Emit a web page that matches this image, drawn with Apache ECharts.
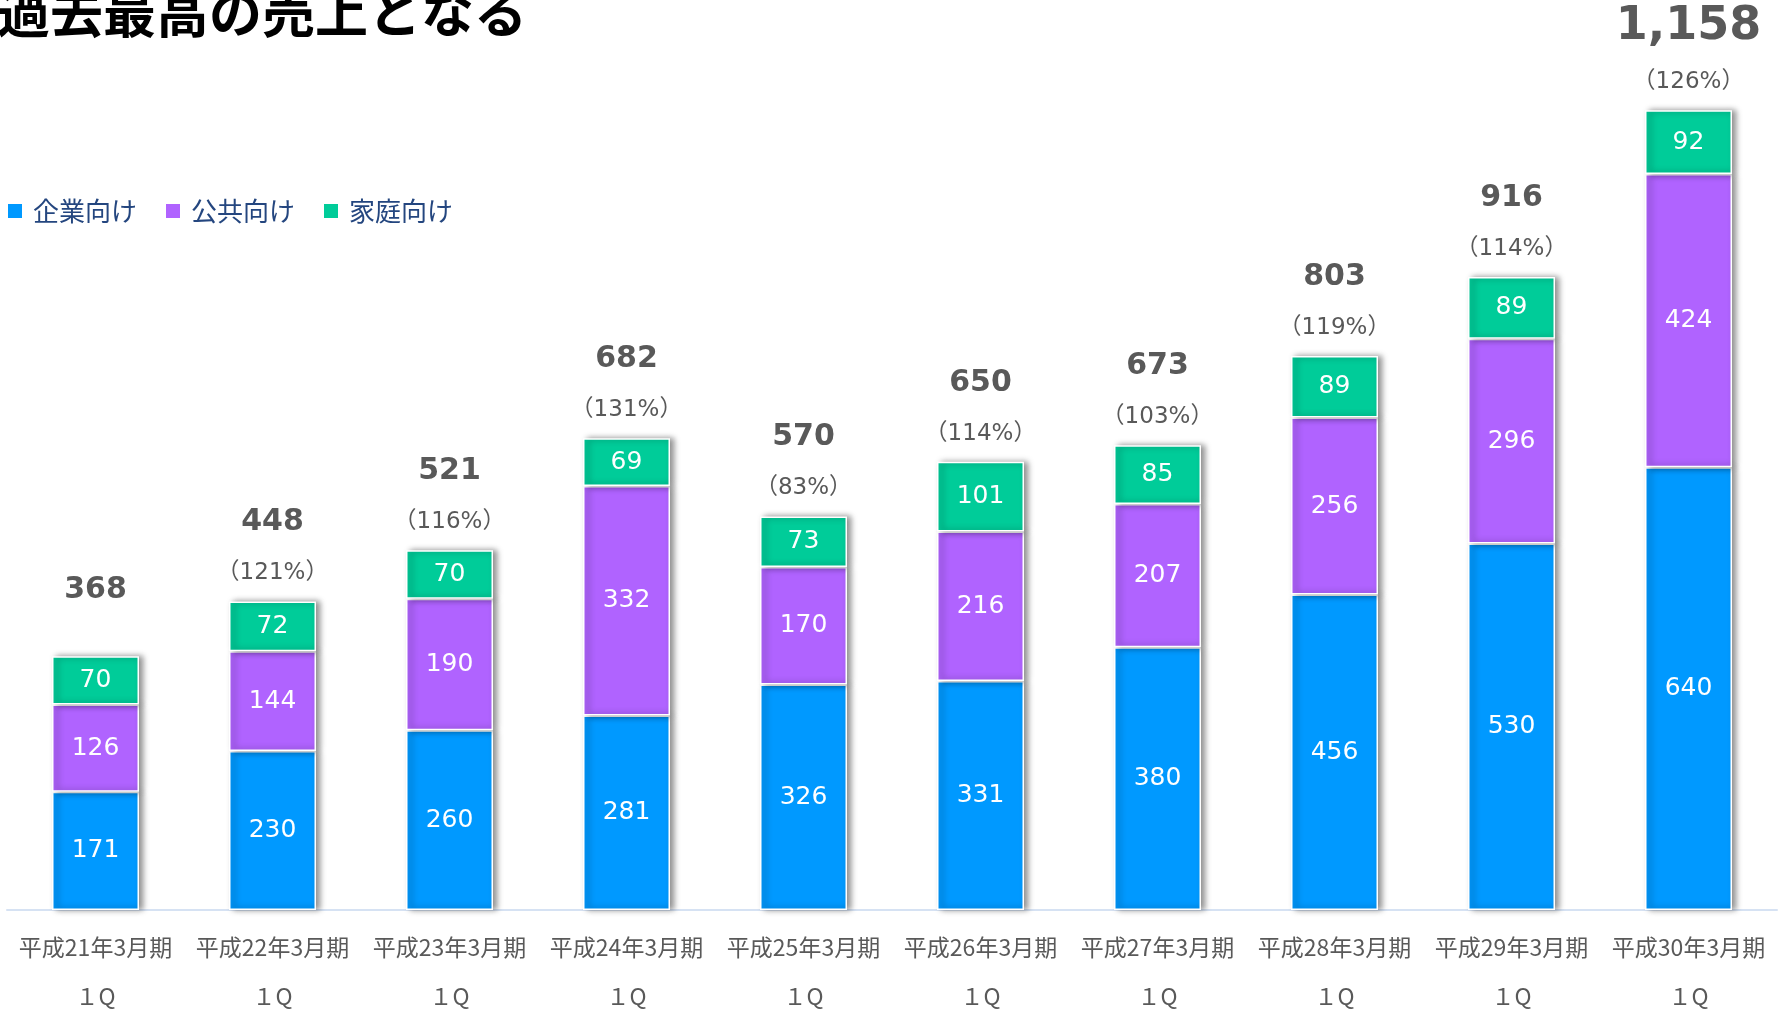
<!DOCTYPE html>
<html><head><meta charset="utf-8">
<script src="https://cdn.jsdelivr.net/npm/echarts@6/dist/echarts.min.js"></script>
<style>html,body{margin:0;padding:0;background:#fff}#c{width:1783px;height:1016px}</style>
</head><body><div id="c"></div>
<script>
const categories = ['平成21年3月期','平成22年3月期','平成23年3月期','平成24年3月期','平成25年3月期','平成26年3月期','平成27年3月期','平成28年3月期','平成29年3月期','平成30年3月期'];
const quarterLabel = '１Q';
const corporate = [171,230,260,281,326,331,380,456,530,640];
const publicSector = [126,144,190,332,170,216,207,256,296,424];
const household = [70,72,70,69,73,101,85,89,89,92];
const totals = [368,448,521,682,570,650,673,803,916,1158];
const growth = [null,121,116,131,83,114,103,119,114,126];
const seriesNames = ['企業向け','公共向け','家庭向け'];

const colors = ['#0099FF','#B063FF','#00CC99'];
const chart = echarts.init(document.getElementById('c'));
const digitFont = '"DejaVu Sans","Noto Sans CJK JP",sans-serif';
const shadow = {shadowColor:'rgba(0,0,0,0.45)', shadowBlur:6, shadowOffsetX:4, shadowOffsetY:0};
function seg(name, data, color){
  return {
    name, type:'bar', stack:'t', data, barWidth:87,
    itemStyle:Object.assign({color, borderColor:'#fff', borderWidth:1.5}, shadow),
    label:{show:true, position:'inside', color:'#fff', fontSize:25, fontFamily:digitFont},
    emphasis:{disabled:true}
  };
}
const totalSeries = {
  name:'total', type:'bar', stack:'t', barWidth:87, silent:true,
  data: totals.map(()=>0),
  itemStyle:{color:'transparent'},
  label:{
    show:true, position:'top', distance:9,
    formatter: p => {
      const i = p.dataIndex;
      const t = totals[i].toLocaleString('en-US');
      const big = totals[i] >= 1000 ? 'tb' : 't';
      if(growth[i] == null) return '{' + big + '|' + t + '}\n{e| }';
      return '{' + big + '|' + t + '}\n{p|（' + growth[i] + '%）}';
    },
    rich:{
      t:{fontSize:30, fontWeight:'bold', color:'#595959', fontFamily:digitFont, lineHeight:64},
      tb:{fontSize:46, fontWeight:'bold', color:'#595959', fontFamily:digitFont, lineHeight:72},
      p:{fontSize:23, color:'#595959', fontFamily:digitFont, lineHeight:38},
      e:{fontSize:10, lineHeight:25}
    }
  }
};
chart.setOption({
  animation:false,
  color:colors,
  graphic:[{type:'text', left:-3, top:-14, style:{text:'過去最高の売上となる', fontSize:53, fontWeight:'bold', fill:'#000', fontFamily:'"Noto Sans CJK JP",sans-serif'}}],
  legend:{
    data:seriesNames, left:1, top:193, icon:'rect', itemWidth:16, itemHeight:16, itemGap:27,
    textStyle:{fontSize:26, color:'#24467F', fontFamily:'"Noto Sans CJK JP",sans-serif', padding:[0,0,0,5]}
  },
  grid:{left:7, right:6, top:82, bottom:106, outerBoundsMode:'none', containLabel:false},
  xAxis:{
    type:'category', data:categories,
    axisTick:{show:false},
    axisLine:{lineStyle:{color:'#D6E2F3', width:2}},
    axisLabel:{
      margin:13, interval:0, color:'#595959', fontSize:23, lineHeight:49,
      fontFamily:'"Noto Sans CJK JP",sans-serif',
      formatter: v => v + '\n' + quarterLabel
    }
  },
  yAxis:{type:'value', min:0, max:1197, show:false, splitLine:{show:false}},
  series:[
    seg(seriesNames[0], corporate, colors[0]),
    seg(seriesNames[1], publicSector, colors[1]),
    seg(seriesNames[2], household, colors[2]),
    totalSeries
  ]
});
</script></body></html>
